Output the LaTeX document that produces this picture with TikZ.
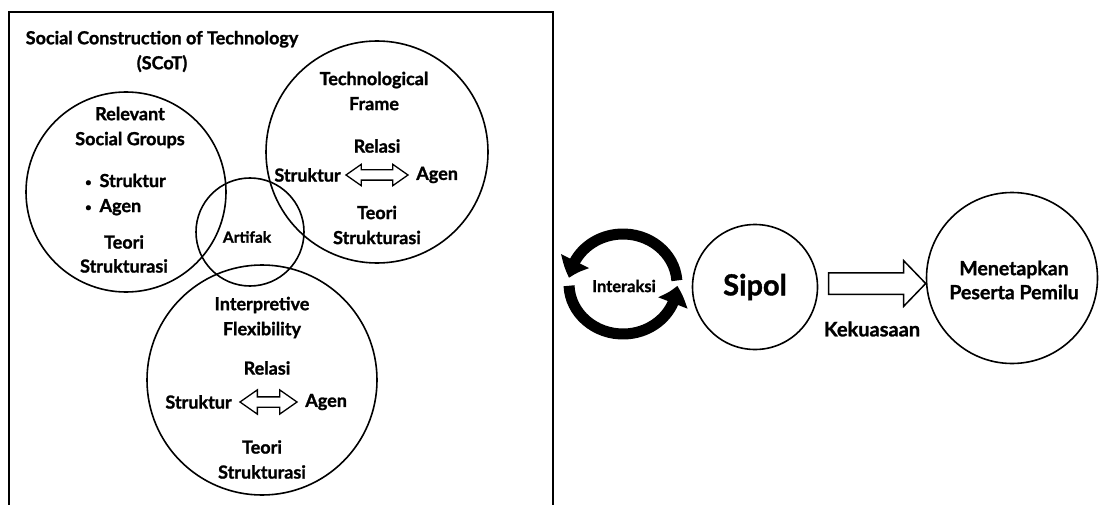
\documentclass[tikz,border=0pt]{standalone}
\usepackage{fontspec}
\setmainfont{Lato}[BoldFeatures={FakeBold=1.3}]
\usetikzlibrary{shapes.arrows,arrows.meta,bending,calc}
\begin{document}
\begin{tikzpicture}[x=1pt,y=-1pt,
  ring/.style={draw, circle, line width=1.6pt, inner sep=0pt},
  lbl/.style={font=\fontsize{18}{25}\selectfont\bfseries, align=center, inner sep=1pt},
  tight/.style={font=\fontsize{18}{24}\selectfont\bfseries},
  dblarrow/.style={draw, double arrow, line width=1.3pt, fill=white,
    double arrow tip angle=70, double arrow head extend=5.5pt,
    inner xsep=0pt, inner ysep=4.5pt},
  blockarrow/.style={draw, single arrow, line width=1.5pt, fill=white,
    single arrow tip angle=92, single arrow head extend=12pt,
    inner xsep=0pt, inner ysep=10pt},
  cyclearc/.style={line width=11pt, -{Triangle[width=30pt,length=18pt,bend]}},
]
\newcommand{\dotmark}{{\fontsize{11}{11}\selectfont\raisebox{1pt}{•}}}
\useasboundingbox (0,0) rectangle (1099,505);

% frame of the SCoT model
\draw[line width=1.6pt] (9,505) |- (553,12) -- (553,505);
\node[lbl] (title) at (162,51.5) {Social Construction of Technology\\(SCoT)};

% the four overlapping circles
\node[ring, minimum size=200pt] (rsg) at (126,192) {};
\node[ring, minimum size=108pt] (art) at (250,232) {};
\node[ring, minimum size=222pt] (tf)  at (377,152) {};
\node[ring, minimum size=230pt] (ifx) at (262,380) {};

% Relevant Social Groups
\node[lbl] (rsgT) at (130,127.5) {Relevant\\Social Groups};
\node[lbl, align=left, anchor=west] (rsgB) at (84,194.5) {\dotmark\hspace{8pt}Struktur\\\dotmark\hspace{8pt}Agen};
\node[lbl, tight] (rsgS) at (124,254) {Teori\\Strukturasi};

% Artifak
\node[lbl, font=\fontsize{15.5}{16}\selectfont\bfseries] (artT) at (247,237) {Artifak};

% Technological Frame
\node[lbl] (tfT) at (374,91) {Technological\\Frame};
\node[lbl] (tfR) at (377,146) {Relasi};
\node[dblarrow, minimum height=62pt] (tfArr) at (377,175) {};
\node[lbl, anchor=east] (tfS) at ($(tfArr.west)+(-3,0)$) {Struktur};
\node[lbl, anchor=west] (tfA) at ($(tfArr.east)+(6,0)$) {Agen};
\node[lbl] (tfST) at (377,225) {Teori\\Strukturasi};

% Interpretive Flexibility
\node[lbl] (ifT) at (262,317.5) {Interpretive\\Flexibility};
\node[lbl] (ifR) at (267,368) {Relasi};
\node[dblarrow, minimum height=57pt, double arrow head extend=7pt] (ifArr) at (268.5,402) {};
\node[lbl, anchor=east] (ifS) at ($(ifArr.west)+(-6,0)$) {Struktur};
\node[lbl, anchor=west] (ifA) at ($(ifArr.east)+(6,0)$) {Agen};
\node[lbl] (ifST) at (262,459.5) {Teori\\Strukturasi};

% interaction cycle
\coordinate (cyc) at (623,284);
\draw[cyclearc] ($(cyc)+(-4:54 and 50)$) arc[start angle=-4, end angle=-173, x radius=54, y radius=50];
\draw[cyclearc] ($(cyc)+(-182:54 and 50)$) arc[start angle=-182, end angle=-358, x radius=54, y radius=50];
\node[lbl, font=\fontsize{16.5}{18}\selectfont\bfseries] (inter) at (624,286) {Interaksi};

% Sipol and its outcome
\node[ring, minimum size=125pt, font=\fontsize{29}{30}\selectfont\bfseries] (sipol) at (755,287) {Sipol};
\node[ring, minimum size=171pt] (menet) at (1012,278) {};
\node[lbl, font=\fontsize{19.5}{24}\selectfont\bfseries] (menetT) at (1014,280) {Menetapkan\\Peserta Pemilu};
\node[blockarrow, minimum height=97pt] (kuasa) at ($(sipol.east)!0.5!(menet.west)+(0,1)$) {};
\node[lbl, font=\fontsize{20}{22}\selectfont\bfseries] (kuasaT) at ($(kuasa.south)+(0,34)$) {Kekuasaan};
\end{tikzpicture}
\end{document}
